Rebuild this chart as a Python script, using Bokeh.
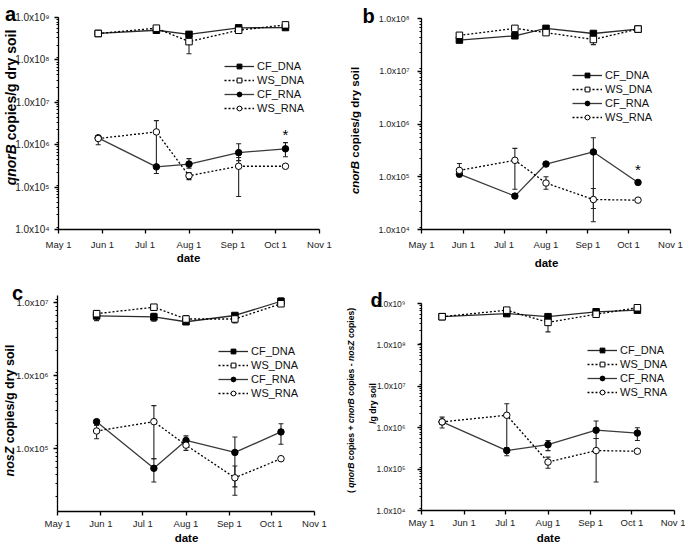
import pandas as pd
from bokeh.plotting import figure
from bokeh.models import (Range1d, FixedTicker, LogTicker, CustomJSTickFormatter,
                          Whisker, TeeHead, ColumnDataSource, Legend, LegendItem, GridBox)
from bokeh.layouts import column, row
from bokeh.core.properties import value
from bokeh.embed import file_html
from bokeh.resources import INLINE

# ---------------- data ----------------
ORIGIN = "2009-05-01"
MONTH_DATES = ["2009-05-01", "2009-06-01", "2009-07-01", "2009-08-01",
               "2009-09-01", "2009-10-01", "2009-11-01"]
MONTH_LABELS = ["May 1", "Jun 1", "Jul 1", "Aug 1", "Sep 1", "Oct 1", "Nov 1"]
SAMPLE_DATES = ["2009-05-29", "2009-07-09", "2009-08-01", "2009-09-05", "2009-10-08"]
SAMPLE_DATES_D = ["2009-05-16", "2009-07-02", "2009-08-01", "2009-09-05", "2009-10-05"]
SERIES = ["CF_DNA", "WS_DNA", "CF_RNA", "WS_RNA"]

# panel a : qnorB
A_CF_DNA = [4.2e8, 5.0e8, 4.0e8, 5.7e8, 5.8e8]
A_CF_DNA_LO = [4.0e8, 4.3e8, 3.8e8, 5.4e8, 5.5e8]
A_CF_DNA_HI = [4.4e8, 5.8e8, 4.2e8, 6.0e8, 6.1e8]
A_WS_DNA = [4.2e8, 5.6e8, 2.7e8, 5.0e8, 6.7e8]
A_WS_DNA_LO = [4.0e8, 5.2e8, 1.4e8, 4.7e8, 6.3e8]
A_WS_DNA_HI = [4.4e8, 6.0e8, 3.3e8, 5.3e8, 7.1e8]
A_CF_RNA = [1.45e6, 3.0e5, 3.5e5, 6.5e5, 8.0e5]
A_CF_RNA_LO = [1.3e6, 2.1e5, 2.8e5, 4.2e5, 5.2e5]
A_CF_RNA_HI = [1.6e6, 3.4e5, 4.7e5, 1.05e6, 1.12e6]
A_WS_RNA = [1.4e6, 2.0e6, 1.85e5, 3.1e5, 3.1e5]
A_WS_RNA_LO = [1.0e6, 3.0e5, 1.5e5, 6.0e4, 3.0e5]
A_WS_RNA_HI = [1.6e6, 3.7e6, 2.2e5, 5.0e5, 3.2e5]

# panel b : cnorB
B_CF_DNA = [3.9e7, 4.7e7, 6.5e7, 5.2e7, 6.3e7]
B_CF_DNA_LO = [3.6e7, 4.4e7, 6.0e7, 4.9e7, 6.0e7]
B_CF_DNA_HI = [4.2e7, 5.0e7, 7.0e7, 5.5e7, 6.6e7]
B_WS_DNA = [4.8e7, 6.5e7, 5.4e7, 4.0e7, 6.3e7]
B_WS_DNA_LO = [4.5e7, 6.1e7, 5.1e7, 3.2e7, 6.0e7]
B_WS_DNA_HI = [5.1e7, 6.9e7, 5.7e7, 4.6e7, 6.6e7]
B_CF_RNA = [1.12e5, 4.3e4, 1.74e5, 2.95e5, 7.8e4]
B_CF_RNA_LO = [1.0e5, 3.9e4, 1.65e5, 1.4e4, 7.4e4]
B_CF_RNA_HI = [1.22e5, 4.7e4, 1.82e5, 5.5e5, 8.2e4]
B_WS_RNA = [1.32e5, 2.05e5, 7.6e4, 3.7e4, 3.6e4]
B_WS_RNA_LO = [1.1e5, 5.8e4, 5.8e4, 2.5e4, 3.5e4]
B_WS_RNA_HI = [1.78e5, 3.45e5, 1.0e5, 6.0e4, 3.7e4]

# panel c : nosZ
C_CF_DNA = [6.6e6, 6.4e6, 5.5e6, 6.7e6, 1.05e7]
C_CF_DNA_LO = [5.7e6, 5.6e6, 5.2e6, 6.3e6, 9.6e6]
C_CF_DNA_HI = [7.6e6, 7.2e6, 5.8e6, 7.1e6, 1.16e7]
C_WS_DNA = [7.1e6, 8.7e6, 6.0e6, 6.0e6, 9.7e6]
C_WS_DNA_LO = [6.4e6, 8.1e6, 5.5e6, 5.3e6, 9.2e6]
C_WS_DNA_HI = [7.8e6, 9.3e6, 6.7e6, 6.5e6, 1.02e7]
C_CF_RNA = [2.35e5, 5.4e4, 1.3e5, 8.9e4, 1.7e5]
C_CF_RNA_LO = [2.1e5, 3.5e4, 1.1e5, 2.3e4, 1.15e5]
C_CF_RNA_HI = [2.5e5, 7.3e4, 1.5e5, 1.45e5, 2.2e5]
C_WS_RNA = [1.75e5, 2.35e5, 1.12e5, 4.0e4, 7.3e4]
C_WS_RNA_LO = [1.37e5, 7.3e4, 9.5e4, 3.0e4, 7.0e4]
C_WS_RNA_HI = [2.1e5, 3.9e5, 1.3e5, 5.8e4, 7.6e4]

# panel d : qnorB + cnorB - nosZ
D_CF_DNA = [4.8e8, 5.7e8, 4.8e8, 6.3e8, 6.9e8]
D_CF_DNA_LO = [4.5e8, 5.0e8, 4.5e8, 6.0e8, 6.5e8]
D_CF_DNA_HI = [5.1e8, 6.4e8, 5.1e8, 6.6e8, 7.3e8]
D_WS_DNA = [4.8e8, 6.9e8, 3.5e8, 5.5e8, 7.9e8]
D_WS_DNA_LO = [4.5e8, 6.4e8, 2.06e8, 5.2e8, 7.5e8]
D_WS_DNA_HI = [5.1e8, 7.4e8, 4.0e8, 5.8e8, 8.3e8]
D_CF_RNA = [1.38e6, 2.8e5, 3.9e5, 8.7e5, 7.4e5]
D_CF_RNA_LO = [1.2e6, 2.1e5, 2.8e5, 5.5e5, 4.9e5]
D_CF_RNA_HI = [1.55e6, 3.3e5, 4.9e5, 1.45e6, 1.0e6]
D_WS_RNA = [1.38e6, 2.0e6, 1.48e5, 2.8e5, 2.7e5]
D_WS_RNA_LO = [9.8e5, 2.8e5, 1.05e5, 4.9e4, 2.6e5]
D_WS_RNA_HI = [1.8e6, 3.8e6, 1.95e5, 5.5e5, 2.8e5]

STAR_A_INDEX = 4   # significance marker on CF_RNA, panel a
STAR_B_INDEX = 4   # significance marker on CF_RNA, panel b

# ---------------- helpers ----------------
FONT = "Liberation Sans"
BOLD_W = {" ": 278, "(": 333, ")": 333, "+": 584, "-": 333, "/": 278, "a": 556, "b": 611,
          "c": 556, "d": 611, "e": 556, "g": 611, "i": 278, "l": 278, "n": 611, "o": 611,
          "p": 611, "q": 611, "r": 389, "s": 556, "y": 556, "B": 722, "Z": 611}


def tw(s, size):
    return sum(BOLD_W.get(ch, 556) for ch in s) * size / 1000.0


def days(lst):
    o = pd.Timestamp(ORIGIN)
    return [(pd.Timestamp(d) - o).days for d in lst]


SUP_JS = r"""
const sup = ["\u2070","\u00b9","\u00b2","\u00b3","\u2074","\u2075","\u2076","\u2077","\u2078","\u2079"];
const e = Math.round(Math.log10(tick));
return "1.0x10" + String(e).split("").map(c => sup[+c]).join("");
"""

STYLES = {
    "CF_DNA": dict(marker="square", fill="black", dash="solid", color="#2a2a2a"),
    "WS_DNA": dict(marker="square", fill="white", dash="2 2", color="black"),
    "CF_RNA": dict(marker="circle", fill="black", dash="solid", color="#3a3a3a"),
    "WS_RNA": dict(marker="circle", fill="white", dash="2 2", color="black"),
}


def panel(g, yr, dates, data, legend_loc, ytick_size, ystandoff, xstandoff,
          star=None, star_off=0):
    p = figure(width=g["W"], height=g["H"], y_axis_type="log",
               x_range=Range1d(0, days(MONTH_DATES)[-1]), y_range=Range1d(*yr),
               output_backend="svg", toolbar_location=None, frame_align=False,
               min_border_left=g["L"], min_border_right=g["R"],
               min_border_top=g["T"], min_border_bottom=g["B"],
               outline_line_color=None, background_fill_color="white")
    p.grid.visible = False
    tick_days = days(MONTH_DATES)
    p.xaxis.ticker = FixedTicker(ticks=tick_days, minor_ticks=[])
    p.xaxis.major_label_overrides = {d: lab for d, lab in zip(tick_days, MONTH_LABELS)}
    p.yaxis.ticker = LogTicker(mantissas=[1], num_minor_ticks=9)
    p.yaxis.formatter = CustomJSTickFormatter(code=SUP_JS)
    for ax in (p.xaxis, p.yaxis):
        ax.axis_line_color = "black"
        ax.axis_line_width = 1.3
        ax.major_tick_line_color = "black"
        ax.major_tick_line_width = 1.3
        ax.major_tick_out = 4
        ax.major_tick_in = 0
        ax.minor_tick_line_color = "black"
        ax.minor_tick_out = 2
        ax.minor_tick_in = 0
        ax.major_label_text_font = FONT
        ax.major_label_text_color = "#222222"
    p.xaxis.major_label_text_font_size = "9.5px"
    p.xaxis.major_label_standoff = xstandoff
    p.yaxis.major_label_text_font_size = ytick_size
    p.yaxis.major_label_standoff = ystandoff

    xs = days(dates)
    items = []
    srcs = {}
    for name in SERIES:
        vals, lo, hi = data[name]
        src = ColumnDataSource(dict(x=xs, y=vals, lo=lo, hi=hi))
        srcs[name] = src
        p.add_layout(Whisker(source=src, base="x", upper="hi", lower="lo", dimension="height",
                             line_color="#222222", line_width=1.1,
                             upper_head=TeeHead(size=5, line_color="#222222", line_width=1.1),
                             lower_head=TeeHead(size=5, line_color="#222222", line_width=1.1)))
    for name in SERIES:
        st = STYLES[name]
        src = srcs[name]
        ln = p.line("x", "y", source=src, line_color=st["color"], line_dash=st["dash"],
                    line_width=1.3)
        sc = p.scatter("x", "y", source=src, marker=st["marker"], size=6.5,
                       fill_color=st["fill"], line_color="black", line_width=1)
        items.append(LegendItem(label=name, renderers=[ln, sc]))
    leg = Legend(items=items, location=legend_loc, background_fill_alpha=0,
                 border_line_color=None, label_text_font=FONT, label_text_font_size="11px",
                 label_text_color="#111111", glyph_width=30, glyph_height=12, label_height=12,
                 spacing=2, padding=0, margin=0, label_standoff=3)
    p.add_layout(leg)
    if star is not None:
        hi = data["CF_RNA"][2]
        p.text(x=[xs[star]], y=[hi[star]], text=["*"], text_font_size="15px",
               text_font=value(FONT), text_align="center", text_baseline="bottom",
               y_offset=star_off, text_color="black")
    return p


GA = dict(W=342, H=272, L=58, R=23, T=17, B=43)
GB = dict(W=343, H=272, L=79, R=15, T=18, B=43)
GC = dict(W=342, H=273, L=57, R=28, T=23, B=34)
GD = dict(W=343, H=273, L=79, R=11, T=31, B=35)

pa = panel(GA, (1e4, 1e9), SAMPLE_DATES,
           {"CF_DNA": (A_CF_DNA, A_CF_DNA_LO, A_CF_DNA_HI),
            "WS_DNA": (A_WS_DNA, A_WS_DNA_LO, A_WS_DNA_HI),
            "CF_RNA": (A_CF_RNA, A_CF_RNA_LO, A_CF_RNA_HI),
            "WS_RNA": (A_WS_RNA, A_WS_RNA_LO, A_WS_RNA_HI)},
           (166, 115), "10px", 5, 5, star=STAR_A_INDEX, star_off=0)
pb = panel(GB, (1e4, 1e8), SAMPLE_DATES,
           {"CF_DNA": (B_CF_DNA, B_CF_DNA_LO, B_CF_DNA_HI),
            "WS_DNA": (B_WS_DNA, B_WS_DNA_LO, B_WS_DNA_HI),
            "CF_RNA": (B_CF_RNA, B_CF_RNA_LO, B_CF_RNA_HI),
            "WS_RNA": (B_WS_RNA, B_WS_RNA_LO, B_WS_RNA_HI)},
           (151, 106), "9px", 8, 5, star=STAR_B_INDEX, star_off=-3)
pc = panel(GC, (10 ** 4.14, 10 ** 7.1), SAMPLE_DATES,
           {"CF_DNA": (C_CF_DNA, C_CF_DNA_LO, C_CF_DNA_HI),
            "WS_DNA": (C_WS_DNA, C_WS_DNA_LO, C_WS_DNA_HI),
            "CF_RNA": (C_CF_RNA, C_CF_RNA_LO, C_CF_RNA_HI),
            "WS_RNA": (C_WS_RNA, C_WS_RNA_LO, C_WS_RNA_HI)},
           (161, 112), "9.5px", 5, 2)
pd_ = panel(GD, (1e4, 1e9), SAMPLE_DATES_D,
            {"CF_DNA": (D_CF_DNA, D_CF_DNA_LO, D_CF_DNA_HI),
             "WS_DNA": (D_WS_DNA, D_WS_DNA_LO, D_WS_DNA_HI),
             "CF_RNA": (D_CF_RNA, D_CF_RNA_LO, D_CF_RNA_HI),
             "WS_RNA": (D_WS_RNA, D_WS_RNA_LO, D_WS_RNA_HI)},
            (166, 112), "8.5px", 12, 2)

# ---------------- transparent text overlay (page pixel coordinates) ----------------
PAGE_W, PAGE_H = 685, 545
ov = figure(width=PAGE_W, height=PAGE_H, x_range=Range1d(0, PAGE_W), y_range=Range1d(PAGE_H, 0),
            output_backend="svg", toolbar_location=None, min_border=0, frame_align=False,
            x_axis_location=None, y_axis_location=None, outline_line_color=None,
            background_fill_color=None, border_fill_color=None)
ov.grid.visible = False


def otext(x, y, text, size, style="bold", angle=0, align="center", baseline="middle"):
    ov.text(x=[x], y=[y], text=[text], angle=angle, angle_units="deg",
            text_font=value(FONT), text_font_size=f"{size}px", text_font_style=style,
            text_align=align, text_baseline=baseline, text_color="black")


def vtitle(markup, size, cx, cy):
    parts = markup.split("*")
    total = sum(tw(t, size) for t in parts)
    pos = cy + total / 2.0
    for k, t in enumerate(parts):
        ital = (k % 2 == 1)
        lead = len(t) - len(t.lstrip(" "))
        start = pos - tw(" " * lead, size)
        txt = t.strip(" ")
        if txt:
            otext(cx, start, txt, size, "bold italic" if ital else "bold", 90, "left", "middle")
        pos -= tw(t, size)


vtitle("*qnorB* copies/g dry soil", 14, 10, 107)
vtitle("*cnorB* copies/g dry soil", 11.5, 354, 130)
vtitle("*nosZ* copies/g dry soil", 12.5, 9, 410)
vtitle("( *qnorB* copies + *cnorB* copies - *nosZ* copies)", 8.6, 350, 400)
vtitle("/g dry soil", 8.6, 372, 403)

otext(188, 257, "date", 11.5)
otext(546, 262, "date", 11.5)
otext(186, 537, "date", 11.5)
otext(548, 537, "date", 11.5)

otext(10, 13, "a", 20, baseline="alphabetic")
otext(368, 15, "b", 20, baseline="alphabetic")
otext(17, 292, "c", 20, baseline="alphabetic")
otext(376, 299, "d", 20, baseline="alphabetic")

main = column(row(pa, pb), row(pc, pd_))
layout = GridBox(children=[(main, 0, 0), (ov, 0, 0)])
open("out.html", "w").write(file_html(layout, INLINE))
